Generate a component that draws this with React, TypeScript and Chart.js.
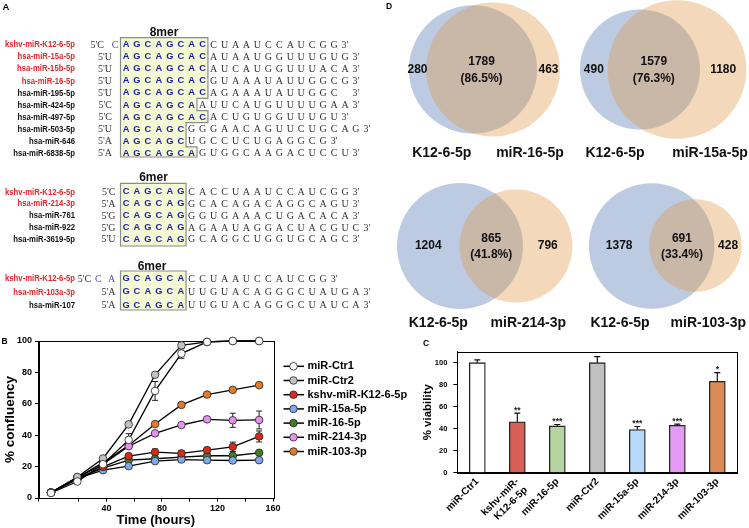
import React, { useEffect, useRef } from 'react';
import { Chart, registerables } from 'chart.js';

Chart.register(...registerables);

const SANS = '"Liberation Sans", Arial, Helvetica, sans-serif';
const SERIF = '"Liberation Serif", "Times New Roman", serif';

// ---------------- Panel B data ----------------
const timeHours = [0, 19, 37.5, 56, 75, 94, 112.5, 131, 150];
const seriesNames = ['miR-Ctr1', 'miR-Ctr2', 'kshv-miR-K12-6-5p', 'miR-15a-5p', 'miR-16-5p', 'miR-214-3p', 'miR-103-3p'];
const seriesColors = ['#ffffff', '#c2c2c2', '#d62a1f', '#7fa9ea', '#3f7f22', '#e890f2', '#e07b2c'];
const confCtr1 = [3.2, 10.5, 21.5, 37, 68.2, 92, 99.4, 100, 100];
const confCtr2 = [3.5, 13.4, 25.2, 46.9, 78.5, 97.2, 99.4, 100, 100];
const confK12 = [3.5, 11.8, 19.8, 26.7, 29.2, 28.4, 30.5, 32.6, 39.2];
const conf15a = [3.5, 12.5, 17.7, 20.3, 23.5, 24.5, 24.1, 23.9, 24.1];
const conf16 = [3.5, 12.8, 19, 24.1, 25, 26, 26.9, 26.9, 28.8];
const conf214 = [3.5, 13, 21.5, 33, 41.2, 46.5, 50.1, 49.5, 49.7];
const conf103 = [3.5, 13, 22.5, 33.5, 47.1, 59.3, 65.9, 68.9, 71.9];
const errCtr1 = [0, 0.8, 0, 4, 6, 3, 0, 0, 0];
const errCtr2 = [0, 0, 0, 0, 1, 1, 0, 0, 0];
const errK12 = [0, 0, 0, 1, 2, 1.5, 1.5, 3, 3.5];
const err15a = [0, 0, 0, 0, 0, 0, 0, 0, 0];
const err16 = [0, 0, 0, 0, 0, 0, 0, 0, 0];
const err214 = [0, 0, 0, 1, 1, 1, 1, 4.5, 5.7];
const err103 = [0, 0, 0, 0, 0, 0, 0, 0, 0];
const confSeries = [confCtr1, confCtr2, confK12, conf15a, conf16, conf214, conf103];
const confErrors = [errCtr1, errCtr2, errK12, err15a, err16, err214, err103];
const timeTicks = [0, 40, 80, 120, 160];

// ---------------- Panel C data ----------------
const barLabels: (string | string[])[] = ['miR-Ctr1', ['kshv-miR-', 'K12-6-5p'], 'miR-16-5p', 'miR-Ctr2', 'miR-15a-5p', 'miR-214-3p', 'miR-103-3p'];
const viability = [100, 46.2, 42.5, 100, 39.2, 43, 83];
const viabilityErr = [2.5, 8, 1.3, 5.5, 2.8, 1.1, 8];
const viabilityStars = ['', '**', '***', '', '***', '***', '*'];
const barColors = ['#ffffff', '#d65f58', '#b6d4a1', '#c0c0c0', '#b9d9fa', '#e59bf6', '#d98a56'];

// ---------------- Panel D data ----------------
const vennOnlyK12 = [280, 490, 1204, 1378];
const vennShared = [1789, 1579, 865, 691];
const vennOnlyOther = [463, 1180, 796, 428];
const vennSharePct = ['86.5%', '76.3%', '41.8%', '33.4%'];
const vennK12Name = 'K12-6-5p';
const vennOtherNames = ['miR-16-5p', 'miR-15a-5p', 'miR-214-3p', 'miR-103-3p'];
// layout of the four diagrams (canvas px)
const vennScale = [1.41, 1.32, 1.385, 1.38];
const vennBlueCenter = [[103, 69.5], [270, 69.5], [90, 246], [281.7, 246]];
const vennOrangeCenter = [[123, 69.5], [307, 69.5], [146, 246], [325.5, 245.5]];
const vennNameX = [[71.7, 160], [245, 340], [68.3, 158.3], [250, 338.3]];
const vennNameY = [152.7, 152.7, 323.3, 323.3];

// ---------------- Panel A data ----------------
type SeqRow = { name: string; red: boolean; nt5: string; pre: string; box: string; post: string };
const rows8mer: SeqRow[] = [
  { name: 'kshv-miR-K12-6-5p', red: true, nt5: 'C', pre: 'C', box: 'AGCAGCAC', post: 'CUAAUCCAUCGG' },
  { name: 'hsa-miR-15a-5p', red: true, nt5: 'U', pre: '', box: 'AGCAGCAC', post: 'AUAAUGGUUUGUG' },
  { name: 'hsa-miR-15b-5p', red: true, nt5: 'U', pre: '', box: 'AGCAGCAC', post: 'AUCAUGGUUUACA' },
  { name: 'hsa-miR-16-5p', red: true, nt5: 'U', pre: '', box: 'AGCAGCAC', post: 'GUAAAUAUUGGCG' },
  { name: 'hsa-miR-195-5p', red: false, nt5: 'U', pre: '', box: 'AGCAGCAC', post: 'AGAAAUAUUGGC ' },
  { name: 'hsa-miR-424-5p', red: false, nt5: 'C', pre: '', box: 'AGCAGCA', post: 'AUUCAUGUUUUGAA' },
  { name: 'hsa-miR-497-5p', red: false, nt5: 'C', pre: '', box: 'AGCAGCAC', post: 'ACUGUGGUUUGU' },
  { name: 'hsa-miR-503-5p', red: false, nt5: 'U', pre: '', box: 'AGCAGC', post: 'GGGAACAGUUCUGCAG' },
  { name: 'hsa-miR-646', red: false, nt5: 'A', pre: '', box: 'AGCAGC', post: 'UGCCUCUGAGGCG' },
  { name: 'hsa-miR-6838-5p', red: false, nt5: 'A', pre: '', box: 'AGCAGCA', post: 'GUGGCAAGACUCCU' },
];
const rows6merA: SeqRow[] = [
  { name: 'kshv-miR-K12-6-5p', red: true, nt5: 'C', pre: '', box: 'CAGCAG', post: 'CACCUAAUCCAUCGG' },
  { name: 'hsa-miR-214-3p', red: true, nt5: 'A', pre: '', box: 'CAGCAG', post: 'GCACAGACAGGCAGU' },
  { name: 'hsa-miR-761', red: false, nt5: 'G', pre: '', box: 'CAGCAG', post: 'GGUGAAACUGACACA' },
  { name: 'hsa-miR-922', red: false, nt5: 'G', pre: '', box: 'CAGCAG', post: 'AGAAUAGGACUACGUC' },
  { name: 'hsa-miR-3619-5p', red: false, nt5: 'U', pre: '', box: 'CAGCAG', post: 'GCAGGCUGGUGCAGC' },
];
const rows6merB: SeqRow[] = [
  { name: 'kshv-miR-K12-6-5p', red: true, nt5: 'C', pre: 'CA', box: 'GCAGCA', post: 'CCUAAUCCAUCGG' },
  { name: 'hsa-miR-103a-3p', red: true, nt5: 'A', pre: '', box: 'GCAGCA', post: 'UUGUACAGGGCUAUGA' },
  { name: 'hsa-miR-107', red: false, nt5: 'A', pre: '', box: 'GCAGCA', post: 'UUGUACAGGGCUAUCA' },
];
const seqGroups = [
  { title: '8mer', titleX: 164, titleY: 31.5, rows: rows8mer, y0: 44, step: 12.1, boxTop: 37.7, boxBottom: 157, prefixEnd: 112 },
  { title: '6mer', titleX: 153.5, titleY: 176.5, rows: rows6merA, y0: 191.3, step: 11.9, boxTop: 183.3, boxBottom: 246, prefixEnd: 115.5 },
  { title: '6mer', titleX: 152, titleY: 266, rows: rows6merB, y0: 278, step: 13.3, boxTop: 271, boxBottom: 310, prefixEnd: 115.5 },
];
const COL0 = 126;
const COL_STEP = 10.95;
const BOX_LEFT = 120.5;
const colX = (i: number) => COL0 + COL_STEP * i;

function SeqPanel() {
  const els: any[] = [];
  seqGroups.forEach((g, gi) => {
    els.push(
      <text key={`t${gi}`} x={g.titleX} y={g.titleY} textAnchor="middle" dominantBaseline="central"
        fontFamily={SANS} fontWeight="bold" fontSize={12} fill="#111">{g.title}</text>
    );
    const ys = g.rows.map((_, k) => g.y0 + k * g.step);
    const pts: number[][] = [[BOX_LEFT, g.boxTop]];
    g.rows.forEach((r, k) => {
      const R = colX(r.box.length - 1) + 5.3;
      const yTop = k === 0 ? g.boxTop : (ys[k - 1] + ys[k]) / 2;
      const yBot = k === g.rows.length - 1 ? g.boxBottom : (ys[k] + ys[k + 1]) / 2;
      pts.push([R, yTop], [R, yBot]);
    });
    pts.push([BOX_LEFT, g.boxBottom]);
    els.push(
      <polygon key={`b${gi}`} points={pts.map(p => p.join(',')).join(' ')} fill="#f3f9d2" stroke="#8c8c8c" strokeWidth={1.2} />
    );
    g.rows.forEach((r, k) => {
      const y = ys[k];
      const key = `${gi}-${k}`;
      els.push(
        <text key={`n${key}`} transform={`translate(75,${y}) scale(0.86,1)`} x={0} y={0} textAnchor="end" dominantBaseline="central" fontFamily={SANS}
          fontWeight="bold" fontSize={9} fill={r.red ? '#e2262b' : '#111'}>{r.name}</text>
      );
      let prefixEnd = g.prefixEnd;
      const n = r.pre.length;
      if (n > 0) {
        const preXs = r.pre.split('').map((_, j) => 115 - (n - 1) * 3.3 - 13.4 * (n - 1 - j));
        prefixEnd = preXs[0] - (n === 1 ? 11 : 7);
        r.pre.split('').forEach((ch, j) => {
          els.push(
            <text key={`p${key}-${j}`} x={preXs[j]} y={y} textAnchor="middle" dominantBaseline="central"
              fontFamily={SERIF} fontSize={10} fill="#5a4fb0">{ch}</text>
          );
        });
      }
      els.push(
        <text key={`f${key}`} x={prefixEnd} y={y} textAnchor="end" dominantBaseline="central"
          fontFamily={SERIF} fontSize={10} fill="#333">{`5'${r.nt5}`}</text>
      );
      r.box.split('').forEach((ch, j) => {
        els.push(
          <text key={`x${key}-${j}`} x={colX(j)} y={y} textAnchor="middle" dominantBaseline="central"
            fontFamily={SANS} fontWeight="bold" fontSize={9.3} fill="#1d1da6">{ch}</text>
        );
      });
      r.post.split('').forEach((ch, j) => {
        if (ch === ' ') return;
        els.push(
          <text key={`q${key}-${j}`} x={colX(r.box.length + j)} y={y} textAnchor="middle" dominantBaseline="central"
            fontFamily={SERIF} fontSize={10} fill="#333">{ch}</text>
        );
      });
      els.push(
        <text key={`e${key}`} x={colX(r.box.length + r.post.length)} y={y} textAnchor="middle" dominantBaseline="central"
          fontFamily={SERIF} fontSize={10} fill="#333">{"3'"}</text>
      );
    });
  });
  return <g>{els}</g>;
}

// ---------------- Plugins ----------------
const boxPlugin = {
  id: 'plotBox',
  beforeDatasetsDraw(chart: any) {
    const { left, right, top, bottom } = chart.chartArea;
    const ctx = chart.ctx;
    ctx.save();
    ctx.strokeStyle = '#000';
    ctx.lineWidth = 1;
    ctx.strokeRect(Math.round(left) + 0.5, Math.round(top) + 0.5, Math.round(right - left), Math.round(bottom - top));
    ctx.restore();
  },
};

const lineErrPlugin = {
  id: 'lineErr',
  beforeDatasetsDraw(chart: any) {
    const ctx = chart.ctx;
    const yScale = chart.scales.y;
    ctx.save();
    ctx.strokeStyle = '#222';
    ctx.lineWidth = 1;
    chart.data.datasets.forEach((ds: any, i: number) => {
      const meta = chart.getDatasetMeta(i);
      confErrors[i].forEach((e, j) => {
        if (!e) return;
        const pt = meta.data[j];
        const v = confSeries[i][j];
        const y1 = yScale.getPixelForValue(v + e);
        const y2 = yScale.getPixelForValue(v - e);
        ctx.beginPath();
        ctx.moveTo(pt.x, y1); ctx.lineTo(pt.x, y2);
        ctx.moveTo(pt.x - 3, y1); ctx.lineTo(pt.x + 3, y1);
        ctx.moveTo(pt.x - 3, y2); ctx.lineTo(pt.x + 3, y2);
        ctx.stroke();
      });
    });
    ctx.restore();
  },
};

const lineLegendPlugin = {
  id: 'lineLegend',
  afterDraw(chart: any) {
    const ctx = chart.ctx;
    ctx.save();
    seriesNames.forEach((name, i) => {
      const y = 36.3 + i * 14.2;
      ctx.strokeStyle = '#000';
      ctx.lineWidth = 1.5;
      ctx.beginPath(); ctx.moveTo(283.5, y); ctx.lineTo(304, y); ctx.stroke();
      ctx.beginPath(); ctx.arc(293.5, y, 3.8, 0, Math.PI * 2);
      ctx.fillStyle = seriesColors[i]; ctx.fill();
      ctx.lineWidth = 0.8; ctx.strokeStyle = '#222'; ctx.stroke();
      ctx.fillStyle = '#000';
      ctx.font = `bold 11px ${SANS}`;
      ctx.textBaseline = 'middle';
      ctx.textAlign = 'left';
      ctx.fillText(name, 307.5, y);
    });
    ctx.restore();
  },
};

const barErrPlugin = {
  id: 'barErr',
  afterDatasetsDraw(chart: any) {
    const ctx = chart.ctx;
    const yScale = chart.scales.y;
    const meta = chart.getDatasetMeta(0);
    ctx.save();
    ctx.strokeStyle = '#111';
    ctx.lineWidth = 1.2;
    viability.forEach((v, i) => {
      const bar = meta.data[i];
      const yTop = yScale.getPixelForValue(v);
      const yE = yScale.getPixelForValue(v + viabilityErr[i]);
      ctx.beginPath();
      ctx.moveTo(bar.x, yTop); ctx.lineTo(bar.x, yE);
      ctx.moveTo(bar.x - 3, yE); ctx.lineTo(bar.x + 3, yE);
      ctx.stroke();
      if (viabilityStars[i]) {
        ctx.fillStyle = '#222';
        ctx.font = `bold 8.5px ${SANS}`;
        ctx.textAlign = 'center';
        ctx.textBaseline = 'alphabetic';
        ctx.fillText(viabilityStars[i], bar.x, yE - 0.5);
      }
    });
    ctx.restore();
  },
};

const vennTextPlugin = {
  id: 'vennText',
  afterDatasetsDraw(chart: any) {
    const ctx = chart.ctx;
    const blue = chart.getDatasetMeta(1).data;
    const orange = chart.getDatasetMeta(0).data;
    ctx.save();
    ctx.fillStyle = '#111';
    ctx.textAlign = 'center';
    ctx.textBaseline = 'middle';
    vennShared.forEach((shared, i) => {
      const b = blue[i];
      const o = orange[i];
      const bL = b.x - b.options.radius, bR = b.x + b.options.radius;
      const oL = o.x - o.options.radius, oR = o.x + o.options.radius;
      const cy = b.y;
      ctx.font = `bold 12px ${SANS}`;
      ctx.fillText(String(vennOnlyK12[i]), (bL + oL) / 2, cy);
      ctx.fillText(String(vennOnlyOther[i]), (bR + oR) / 2, cy);
      ctx.fillText(String(shared), (oL + bR) / 2, cy - 7.5);
      ctx.fillText(`(${vennSharePct[i]})`, (oL + bR) / 2, cy + 9);
      ctx.font = `bold 14px ${SANS}`;
      ctx.fillText(vennK12Name, vennNameX[i][0], vennNameY[i]);
      ctx.fillText(vennOtherNames[i], vennNameX[i][1], vennNameY[i]);
    });
    ctx.restore();
  },
};

const tickFont = (size: number) => ({ family: SANS, size, weight: 'bold' as const });

export default function App() {
  const bRef = useRef<HTMLCanvasElement>(null);
  const cRef = useRef<HTMLCanvasElement>(null);
  const dRef = useRef<HTMLCanvasElement>(null);

  useEffect(() => {
    const charts: Chart[] = [];

    // Panel B: growth curves
    charts.push(new Chart(bRef.current as HTMLCanvasElement, {
      type: 'line',
      data: {
        datasets: confSeries.map((s, i) => ({
          label: seriesNames[i],
          data: timeHours.map((t, j) => ({ x: t, y: s[j] })),
          borderColor: '#000',
          borderWidth: 1.3,
          pointRadius: 3.8,
          pointBackgroundColor: seriesColors[i],
          pointBorderColor: '#222',
          pointBorderWidth: 0.8,
          tension: 0,
          clip: false,
        })),
      },
      options: {
        animation: false,
        responsive: false,
        maintainAspectRatio: false,
        events: [],
        layout: { autoPadding: false, padding: { left: 0, top: 11, right: 157, bottom: 0 } },
        plugins: { legend: { display: false }, tooltip: { enabled: false } },
        scales: {
          x: {
            type: 'linear', min: -9, max: 160,
            ticks: {
              stepSize: 20, autoSkip: false, maxRotation: 0, padding: 1.5, color: '#000', font: tickFont(9),
              callback: (v: any) => (timeTicks.includes(Number(v)) ? String(v) : ''),
            },
            grid: { drawOnChartArea: false, drawTicks: true, tickLength: 3.5, color: '#000', lineWidth: 1 },
            border: { color: '#000', width: 1 },
            title: { display: true, text: 'Time (hours)', color: '#000', font: { family: SANS, size: 13, weight: 'bold' }, padding: 0 },
            afterFit: (s: any) => { s.height = 30; },
          },
          y: {
            min: 0, max: 100,
            ticks: { stepSize: 20, padding: 3, color: '#000', font: tickFont(9) },
            grid: { drawOnChartArea: false, drawTicks: true, tickLength: 3.5, color: '#000', lineWidth: 1 },
            border: { color: '#000', width: 1 },
            title: { display: true, text: '% confluency', color: '#000', font: { family: SANS, size: 13.5, weight: 'bold' }, padding: { top: 2, bottom: 0 } },
            afterFit: (s: any) => { s.width = 38.5; },
          },
        },
      } as any,
      plugins: [boxPlugin, lineErrPlugin, lineLegendPlugin],
    }));

    // Panel C: viability bars
    charts.push(new Chart(cRef.current as HTMLCanvasElement, {
      type: 'bar',
      data: {
        labels: barLabels,
        datasets: [{
          data: viability,
          backgroundColor: barColors,
          borderColor: '#222',
          borderWidth: 1.3,
          barThickness: 16,
          clip: false,
        } as any],
      },
      options: {
        animation: false,
        responsive: false,
        maintainAspectRatio: false,
        events: [],
        layout: { autoPadding: false, padding: { left: 51, top: 21.7, right: 11.7, bottom: 0 } },
        plugins: { legend: { display: false }, tooltip: { enabled: false } },
        scales: {
          x: {
            ticks: { autoSkip: false, minRotation: 45, maxRotation: 45, padding: 3, color: '#000', font: tickFont(10) },
            grid: { drawOnChartArea: false, drawTicks: false },
            border: { color: '#000', width: 1 },
            afterFit: (s: any) => { s.height = 55.3; },
          },
          y: {
            min: 0, max: 110,
            ticks: { stepSize: 20, padding: 6, color: '#000', font: tickFont(7.5), callback: (v: any) => (Number(v) <= 100 ? String(v) : '') },
            grid: {
              drawOnChartArea: false, drawTicks: true, tickLength: 4, lineWidth: 1,
              color: (c: any) => (c.tick && c.tick.value > 100 ? 'rgba(0,0,0,0)' : '#000'),
            },
            border: { color: '#000', width: 1 },
            title: { display: true, text: '% viability', color: '#000', font: { family: SANS, size: 11.5, weight: 'bold' }, padding: 0 },
            afterFit: (s: any) => { s.width = 36.3; },
          },
        },
      } as any,
      plugins: [boxPlugin, barErrPlugin],
    }));

    // Panel D: Venn diagrams drawn as bubbles
    const radius = (n: number, i: number) => vennScale[i] * Math.sqrt(n);
    charts.push(new Chart(dRef.current as HTMLCanvasElement, {
      type: 'bubble',
      data: {
        datasets: [
          {
            label: 'other',
            data: vennShared.map((s, i) => ({ x: vennOrangeCenter[i][0], y: vennOrangeCenter[i][1], r: radius(s + vennOnlyOther[i], i) })),
            backgroundColor: 'rgba(224,153,74,0.38)',
            borderWidth: 0,
            clip: false,
          },
          {
            label: 'K12-6-5p',
            data: vennShared.map((s, i) => ({ x: vennBlueCenter[i][0], y: vennBlueCenter[i][1], r: radius(s + vennOnlyK12[i], i) })),
            backgroundColor: 'rgba(79,118,179,0.38)',
            borderWidth: 0,
            clip: false,
          },
        ] as any,
      },
      options: {
        animation: false,
        responsive: false,
        maintainAspectRatio: false,
        events: [],
        layout: { autoPadding: false, padding: 0 },
        plugins: { legend: { display: false }, tooltip: { enabled: false } },
        scales: {
          x: { type: 'linear', min: 0, max: 379, display: false },
          y: { type: 'linear', min: 0, max: 330, reverse: true, display: false },
        },
      } as any,
      plugins: [vennTextPlugin],
    }));

    return () => charts.forEach(c => c.destroy());
  }, []);

  return (
    <div style={{ position: 'fixed', left: 0, top: 0, width: 749, height: 528, background: '#fff', overflow: 'hidden' }}>
      <canvas ref={dRef} width={379} height={330} style={{ position: 'absolute', left: 370, top: 0, width: 379, height: 330 }} />
      <canvas ref={bRef} width={430} height={198} style={{ position: 'absolute', left: 0, top: 330, width: 430, height: 198 }} />
      <canvas ref={cRef} width={379} height={198} style={{ position: 'absolute', left: 370, top: 330, width: 379, height: 198 }} />
      <svg width={749} height={528} style={{ position: 'absolute', left: 0, top: 0, pointerEvents: 'none' }}>
        <SeqPanel />
        <text x={2.5} y={9.5} fontFamily={SANS} fontWeight="bold" fontSize={9.5} fill="#000">A</text>
        <text x={1.5} y={344} fontFamily={SANS} fontWeight="bold" fontSize={8.5} fill="#000">B</text>
        <text x={423} y={345.5} fontFamily={SANS} fontWeight="bold" fontSize={8.5} fill="#000">C</text>
        <text x={386} y={9} fontFamily={SANS} fontWeight="bold" fontSize={8.5} fill="#000">D</text>
      </svg>
    </div>
  );
}
